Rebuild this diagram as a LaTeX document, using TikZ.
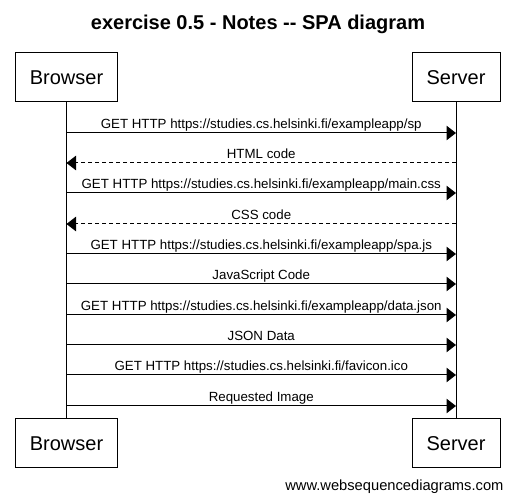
\documentclass[tikz,border=0pt]{standalone}
\usepackage{fontspec}
\setmainfont{Liberation Sans}
\usetikzlibrary{arrows.meta}
\begin{document}
\begin{tikzpicture}[x=1pt,y=-1pt,
        actor/.style={draw,line width=1pt,inner sep=0pt,font=\fontsize{20}{24}\selectfont},
        msg/.style={line width=1pt,-{Triangle[length=9.5pt,width=14.5pt]}},
        reply/.style={msg,dash pattern=on 4pt off 3pt},
        lbl/.style={midway,anchor=base,yshift=4pt,inner sep=0pt,font=\fontsize{13.3}{15}\selectfont}]
            \useasboundingbox (0,0) rectangle (515,502);
            \node[anchor=base,font=\fontsize{20}{24}\selectfont\bfseries] (title) at (258,30) {exercise 0.5 - Notes -{}- SPA diagram};
            \node[actor,minimum width=102pt,minimum height=49pt] (browserTop) at (66.5,77.5) {Browser};
            \node[actor,minimum width=88pt,minimum height=49pt] (serverTop) at (456,77.5) {Server};
            \node[actor,minimum width=102pt,minimum height=49pt] (browserBot) at (66.5,443.5) {Browser};
            \node[actor,minimum width=88pt,minimum height=49pt] (serverBot) at (456,443.5) {Server};
            \draw[line width=1pt] (browserTop) -- (browserBot);
            \draw[line width=1pt] (serverTop) -- (serverBot);
            \foreach \n \y in {1/133, 2/163, 3/193, 4/224, 5/254, 6/284, 7/315, 8/345, 9/375, 10/406}{
                    \coordinate (b\n) at (66.5,\y);
                    \coordinate (s\n) at (456,\y);
                }
            \draw[msg] (b1) -- (s1) node[lbl] {GET HTTP https://studies.cs.helsinki.fi/exampleapp/sp};
            \draw[reply] (s2) -- (b2) node[lbl] {HTML code};
            \draw[msg] (b3) -- (s3) node[lbl] {GET HTTP https://studies.cs.helsinki.fi/exampleapp/main.css};
            \draw[reply] (s4) -- (b4) node[lbl] {CSS code};
            \draw[msg] (b5) -- (s5) node[lbl] {GET HTTP https://studies.cs.helsinki.fi/exampleapp/spa.js};
            \draw[msg] (b6) -- (s6) node[lbl] {JavaScript Code};
            \draw[msg] (b7) -- (s7) node[lbl] {GET HTTP https://studies.cs.helsinki.fi/exampleapp/data.json};
            \draw[msg] (b8) -- (s8) node[lbl] {JSON Data};
            \draw[msg] (b9) -- (s9) node[lbl] {GET HTTP https://studies.cs.helsinki.fi/favicon.ico};
            \draw[msg] (b10) -- (s10) node[lbl] {Requested Image};
            \node[anchor=base east,font=\fontsize{14.7}{18}\selectfont] (footer) at (507,491) {www.websequencediagrams.com};
        \end{tikzpicture}
\end{document}
